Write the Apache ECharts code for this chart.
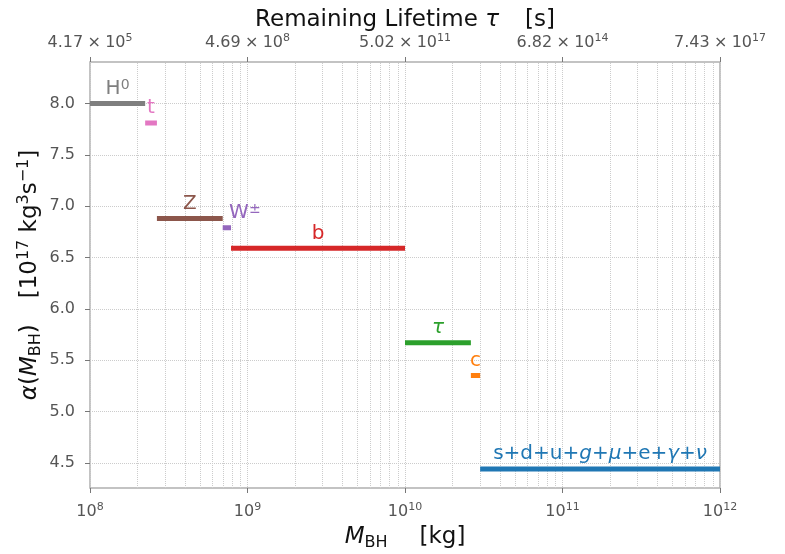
<!DOCTYPE html>
<html>
<head>
<meta charset="utf-8">
<script src="https://cdn.jsdelivr.net/npm/echarts@6/dist/echarts.min.js"></script>
<style>
  html, body { margin: 0; padding: 0; background: #fff; }
  #chart { width: 785px; height: 554px; }
</style>
</head>
<body>
<div id="chart"></div>
<script>
// 各粒子段：质量区间与 alpha 值
const particles = ['H0', 't', 'Z', 'W', 'b', 'tau', 'c', 'light'];
const massStart = [1e8, 2.24e8, 2.66e8, 6.96e8, 7.86e8, 1.0e10, 2.62e10, 3.0e10];
const massEnd = [2.24e8, 2.66e8, 6.96e8, 7.86e8, 1.0e10, 2.62e10, 3.0e10, 1e12];
const alphaVals = [8.00, 7.81, 6.88, 6.79, 6.59, 5.67, 5.35, 4.44];
const labelTexts = [
  'H{sup|0}', 't', 'Z', 'W{sup|±}', 'b', '{it|τ}', 'c',
  's+d+u+{it|g}+{it|μ}+e+{it|γ}+{it|ν}',
];

// 刻度标签
const massExponents = [8, 9, 10, 11, 12];
const tauMantissas = ['4.17', '4.69', '5.02', '6.82', '7.43'];
const tauExponents = [5, 8, 11, 14, 17];
const alphaTicks = [4.5, 5.0, 5.5, 6.0, 6.5, 7.0, 7.5, 8.0];

const colors = ['#7f7f7f', '#e377c2', '#8c564b', '#9467bd', '#d62728', '#2ca02c', '#ff7f0e', '#1f77b4'];
const FONT = 'DejaVu Sans';
const gridColor = '#cccccc';
const tickColor = '#555';

// 对数轴次网格线位置 (2..9 x 10^n)
const minorLines = [];
for (let e = 8; e < 12; e++) {
  for (let k = 2; k <= 9; k++) minorLines.push({ xAxis: k * Math.pow(10, e) });
}

const labelShift = { W: [18, 0] };

const tickRich = {
  sup: { fontFamily: FONT, fontSize: 11, color: tickColor, verticalAlign: 'top', lineHeight: 7 },
  x: { fontFamily: FONT, fontSize: 16, color: tickColor, width: 22, align: 'center' },
};

const chart = echarts.init(document.getElementById('chart'));

const segSeries = particles.map((p, i) => ({
  name: p,
  type: 'line',
  xAxisIndex: 0,
  yAxisIndex: 0,
  data: [[massStart[i], alphaVals[i]], [massEnd[i], alphaVals[i]]],
  symbol: 'none',
  lineStyle: { color: colors[i], width: 5, cap: 'butt' },
  silent: true,
  z: 3,
}));

const labelSeries = {
  type: 'scatter',
  symbolSize: 0,
  silent: true,
  z: 4,
  itemStyle: { opacity: 1 },
  data: particles.map((p, i) => ({
    value: [Math.sqrt(massStart[i] * massEnd[i]), alphaVals[i]],
    label: {
      show: true,
      position: 'top',
      distance: 5,
      offset: labelShift[p] || [0, 0],
      formatter: labelTexts[i],
      color: colors[i],
      fontFamily: FONT,
      fontSize: 20,
      lineHeight: 20,
      rich: {
        sup: { fontFamily: FONT, fontSize: 14, color: colors[i], verticalAlign: 'top', lineHeight: 4 },
        it: { fontFamily: FONT, fontSize: 20, color: colors[i], fontStyle: 'italic', lineHeight: 20 },
      },
    },
  })),
};

const gridSeries = {
  type: 'line',
  data: [],
  silent: true,
  z: 0,
  markLine: {
    z: 0,
    silent: true,
    symbol: ['none', 'none'],
    label: { show: false },
    animation: false,
    lineStyle: { color: gridColor, type: 'dotted', width: 1 },
    data: minorLines,
  },
};

const option = {
  animation: false,
  backgroundColor: '#fff',
  grid: {
    left: 90, right: 65, top: 62, bottom: 66,
    outerBoundsMode: 'none',
    containLabel: false,
    show: true, borderColor: '#b0b0b0', borderWidth: 1.5,
  },
  xAxis: [
    {
      type: 'log',
      logBase: 10,
      min: 1e8,
      max: 1e12,
      position: 'bottom',
      axisLine: { show: false },
      axisTick: { show: true, length: 5, lineStyle: { color: '#777' } },
      splitLine: { show: true, lineStyle: { color: gridColor, type: 'dotted', width: 1 } },
      axisLabel: {
        margin: 14,
        color: tickColor,
        fontFamily: FONT,
        fontSize: 16,
        lineHeight: 20,
        formatter: (v, idx) => `10{sup|${massExponents[idx]}}`,
        rich: tickRich,
      },
      name: '{it|M}{sub|BH}{gap| }[kg]',
      nameLocation: 'middle',
      nameGap: 35,
      nameMoveOverlap: false,
      nameTextStyle: {
        color: '#111', fontFamily: FONT, fontSize: 23, lineHeight: 28,
        rich: {
          it: { fontFamily: FONT, fontSize: 23, fontStyle: 'italic', color: '#111', lineHeight: 28 },
          sub: { fontFamily: FONT, fontSize: 16, color: '#111', verticalAlign: 'bottom', lineHeight: 14 },
          gap: { width: 32 },
        },
      },
    },
    {
      type: 'log',
      logBase: 10,
      min: 1e8,
      max: 1e12,
      position: 'top',
      axisLine: { show: false },
      axisTick: { show: true, length: 5, lineStyle: { color: '#777' } },
      splitLine: { show: false },
      axisLabel: {
        margin: 9,
        color: tickColor,
        fontFamily: FONT,
        fontSize: 16,
        lineHeight: 20,
        formatter: (v, idx) => `${tauMantissas[idx]}{x|×}10{sup|${tauExponents[idx]}}`,
        rich: tickRich,
      },
      name: 'Remaining Lifetime {it|τ}{gap| }[s]',
      nameLocation: 'middle',
      nameGap: 28,
      nameMoveOverlap: false,
      nameTextStyle: {
        color: '#111', fontFamily: FONT, fontSize: 23, lineHeight: 28,
        rich: {
          it: { fontFamily: FONT, fontSize: 23, fontStyle: 'italic', color: '#111', lineHeight: 28 },
          gap: { width: 26 },
        },
      },
    },
  ],
  yAxis: {
    type: 'value',
    min: 4.255,
    max: 8.405,
    splitNumber: 8,
    axisLine: { show: false },
    axisTick: { show: true, length: 5, lineStyle: { color: '#777' }, customValues: alphaTicks },
    splitLine: { show: true, lineStyle: { color: gridColor, type: 'dotted', width: 1 } },
    axisLabel: {
      margin: 15,
      color: tickColor,
      fontFamily: FONT,
      fontSize: 16,
      customValues: alphaTicks,
      formatter: v => v.toFixed(1),
    },
    name: '{it|α}({it|M}{sub|BH}){gap| }[10{sup|17} kg{sup|3}s{sup|−1}]',
    nameLocation: 'middle',
    nameGap: 46,
    nameMoveOverlap: false,
    nameTextStyle: {
      color: '#111', fontFamily: FONT, fontSize: 23, lineHeight: 28,
      rich: {
        it: { fontFamily: FONT, fontSize: 23, fontStyle: 'italic', color: '#111', lineHeight: 28 },
        sub: { fontFamily: FONT, fontSize: 16, color: '#111', verticalAlign: 'bottom', lineHeight: 14 },
        sup: { fontFamily: FONT, fontSize: 16, color: '#111', verticalAlign: 'top', lineHeight: 10 },
        gap: { width: 26 },
      },
    },
  },
  series: [gridSeries, ...segSeries, labelSeries],
};

chart.setOption(option);
</script>
</body>
</html>
